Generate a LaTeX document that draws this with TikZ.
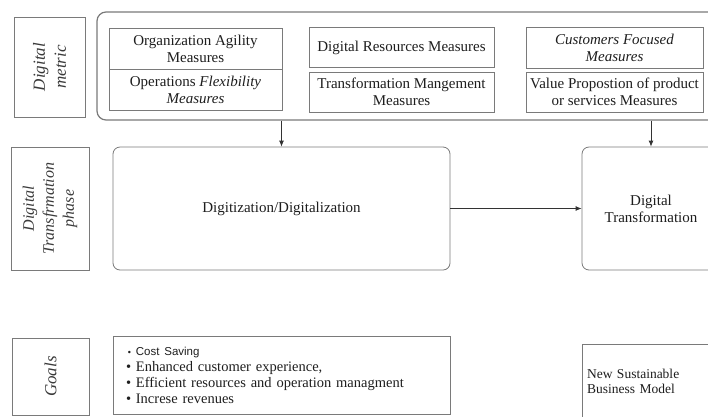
\documentclass[tikz,border=0pt]{standalone}
\usepackage{fontspec}
\setmainfont{Liberation Serif}
\newfontfamily\arialf{Liberation Sans}
\usetikzlibrary{arrows.meta}
\definecolor{linec}{HTML}{7A7A7A}
\definecolor{arrc}{HTML}{333333}
\definecolor{textc}{HTML}{1E1E1E}
\definecolor{labc}{HTML}{3A3A3A}
\begin{document}
\begin{tikzpicture}[x=1pt,y=-1pt,
  box/.style={draw=linec, line width=0.8pt, fill=white, inner sep=2pt, align=center,
    font=\fontsize{15}{17}\selectfont, text=textc},
  rbox/.style={box, rounded corners=7pt},
  lab/.style={draw=linec, line width=0.8pt, rotate=90, align=center, inner sep=1pt,
    font=\itshape\fontsize{17}{21}\selectfont, text=labc},
  arr/.style={draw=arrc, line width=0.8pt, -{Latex[length=6pt,width=5pt]}}]
\useasboundingbox (0,0) rectangle (708,416);
\fill[white] (0,0) rectangle (708,416);
\clip (0,0) rectangle (708,416);

% left labels
\node[lab, minimum width=100pt, minimum height=71pt] (lm) at (49.5,67) {Digital\\metric};
\node[lab, minimum width=123pt, minimum height=78pt, font=\itshape\fontsize{16}{20}\selectfont] (lp) at (50,208.5) {Digital\\Transfrmation\\phase};
\node[lab, minimum width=77pt, minimum height=77pt] (lg) at (50.5,376.5) {Goals};

% digital metric container
\node[rbox, line width=1.2pt, rounded corners=9pt, minimum width=623pt, minimum height=108pt] (metric) at (408.5,66) {};

% inner measures
\node[box, minimum width=173pt, minimum height=41pt] (oa) at (195.5,48.5) {Organization Agility\\Measures};
\node[box, minimum width=173pt, minimum height=41pt] (of) at (195.5,89.5) {Operations \textit{Flexibility}\\\textit{Measures}};
\node[box, minimum width=185pt, minimum height=40pt] (dr) at (401.5,47.5) {Digital Resources Measures};
\node[box, minimum width=185pt, minimum height=40pt] (tm) at (401.5,92) {Transformation Mangement\\Measures};
\node[box, minimum width=177pt, minimum height=41pt] (cf) at (614.5,47.5) {\textit{Customers Focused}\\\textit{Measures}};
\node[box, minimum width=177pt, minimum height=40pt] (vp) at (614.5,92) {Value Propostion of product\\or services Measures};

% phase row
\node[rbox, minimum width=337pt, minimum height=123pt] (digi) at (281.5,208.5) {Digitization/Digitalization};
\node[rbox, minimum width=138pt, minimum height=123pt] (dt) at (651,208.5) {Digital\\Transformation};

% goals row
\node[box, minimum width=337pt, minimum height=78pt, text width=311pt, inner xsep=13pt, align=left,
  font=\fontsize{14.5}{16}\selectfont] (goals) at (281.5,375)
  {{\arialf\fontsize{11.5}{13}\selectfont\,{\small\textbullet} Cost Saving}\\
   \textbullet{} Enhanced customer experience,\\
   \textbullet{} Efficient resources and operation managment\\
   \textbullet{} Increse revenues};
\node[box, minimum width=138pt, minimum height=74pt, text width=128pt, inner xsep=5pt, align=left,
  font=\fontsize{13.5}{15}\selectfont] (nsbm) at (651,381) {New Sustainable\\Business Model};

% connectors
\draw[arr] (metric.south -| digi.north) -- (digi.north);
\draw[arr] (metric.south -| dt.north) -- (dt.north);
\draw[arr] (digi.east) -- (dt.west);
\end{tikzpicture}
\end{document}
